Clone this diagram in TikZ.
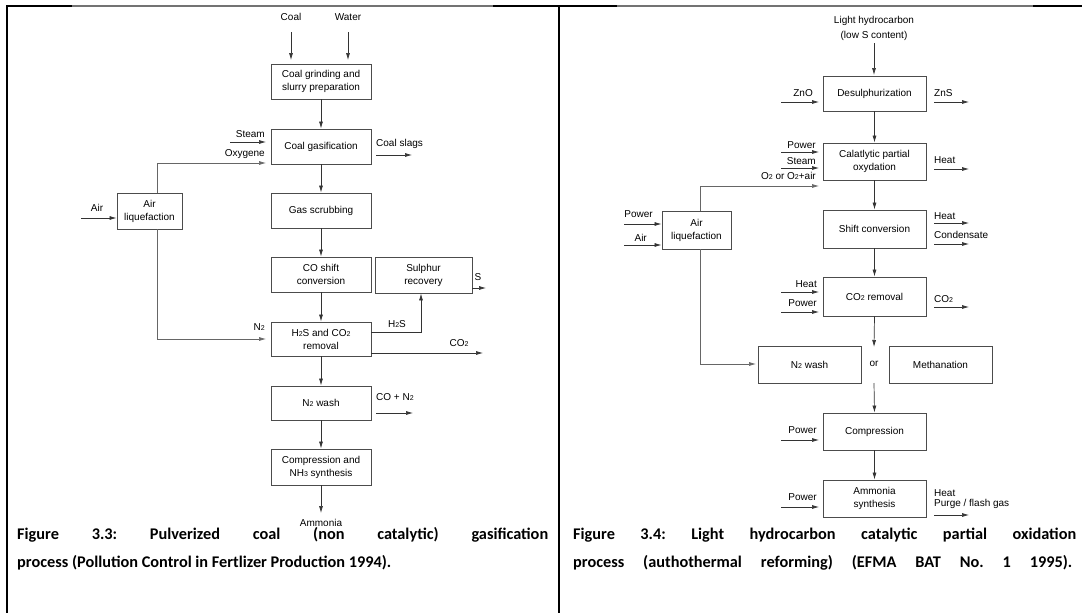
\documentclass[tikz,border=0pt]{standalone}
\usepackage{fontspec}
\setmainfont{Liberation Sans}
\newfontfamily\capfont{Carlito}
\usetikzlibrary{arrows.meta}
\newcommand{\sbs}[1]{{\fontsize{7}{8}\selectfont #1}}
\begin{document}
\frenchspacing
\begin{tikzpicture}[x=1pt,y=-1pt,
  box/.style={draw=black!70,line width=0.8pt,align=center,inner sep=1pt,font=\fontsize{10}{13}\selectfont},
  flow/.style={draw=black!80,line width=0.7pt,-{Latex[length=7pt,width=4pt]}},
  pipe/.style={draw=black!60,line width=0.7pt,-{Latex[length=7pt,width=4pt]}},
  lbl/.style={font=\fontsize{10}{12}\selectfont,inner sep=0pt,align=center},
  captxt/.style={font=\capfont\bfseries\fontsize{16.3}{28}\selectfont\frenchspacing,inner sep=0pt,anchor=west}]
\useasboundingbox (0,0) rectangle (1082,613);
% ---------- frame ----------
\draw[line width=2.2pt] (7,613) -- (7,6) -- (72,6);
\draw[black!55,line width=1.4pt] (72,6) -- (493,6);
\draw[line width=2.2pt] (493,6) -- (617,6);
\draw[black!55,line width=1.4pt] (617,6) -- (1033,6);
\draw[line width=2.2pt] (1033,6) -- (1082,6);
\draw[line width=2.2pt] (559,6) -- (559,613);

% ================= LEFT PANEL =================
\node[box,minimum width=100pt,minimum height=35pt] (b1) at (321,81.5) {Coal grinding and\\slurry preparation};
\node[box,minimum width=100pt,minimum height=35pt] (b2) at (321,146.5) {Coal gasification};
\node[box,minimum width=100pt,minimum height=35pt] (b3) at (321,210.5) {Gas scrubbing};
\node[box,minimum width=100pt,minimum height=35pt] (b4) at (321,274.5) {CO shift\\conversion};
\node[box,minimum width=97pt,minimum height=36pt] (b5) at (423.5,275) {Sulphur\\recovery};
\node[box,minimum width=100pt,minimum height=34pt] (b6) at (321,339) {H\sbs{2}S and CO\sbs{2}\\removal};
\node[box,minimum width=100pt,minimum height=34pt] (b7) at (321,403) {N\sbs{2} wash};
\node[box,minimum width=100pt,minimum height=36pt] (b8) at (321,467) {Compression and\\NH\sbs{3} synthesis};
\node[box,minimum width=65pt,minimum height=36pt] (al) at (149.5,211) {Air\\liquefaction};

\node[lbl] (lcoal) at (291,17) {Coal};
\node[lbl] (lwater) at (348,17) {Water};
\node[lbl,anchor=east] (lsteam) at (265,134) {Steam};
\node[lbl,anchor=east] (loxy) at (265,154) {Oxygene};
\node[lbl,anchor=west] (lslag) at (376,144) {Coal slags};
\node[lbl] (lair) at (97,208) {Air};
\node[lbl,anchor=east] (ln2) at (265,327) {N\sbs{2}};
\node[lbl] (lh2s) at (397,324) {H\sbs{2}S};
\node[lbl] (ls) at (478,277) {S};
\node[lbl] (lco2) at (459,343) {CO\sbs{2}};
\node[lbl,anchor=west] (lcon2) at (376,397) {CO + N\sbs{2}};
\begin{scope}
\clip (0,0) rectangle (559,525.5);
\node[lbl] (lamm) at (321,523) {Ammonia};
\end{scope}

\coordinate (c1a) at (291,32);  \coordinate (c1b) at (291,60);
\coordinate (c2a) at (348,32);  \coordinate (c2b) at (348,60);
\coordinate (sta) at (230,142); \coordinate (stb) at (266,142);
\coordinate (oxa) at (157,163); \coordinate (oxb) at (266,163);
\coordinate (sla) at (376,155); \coordinate (slb) at (412,155);
\coordinate (aia) at (81,218);
\coordinate (n2a) at (157,339); \coordinate (n2b) at (266,339);
\coordinate (hsa) at (421,332);
\coordinate (sa) at (472,288);  \coordinate (sb) at (486,288);
\coordinate (coa) at (483,353);
\coordinate (cna) at (376,413); \coordinate (cnb) at (413,413);
\coordinate (amb) at (321,513);

\draw[flow] (c1a) -- (c1b);
\draw[flow] (c2a) -- (c2b);
\draw[flow] (b1) -- (b2);
\draw[flow] (b2) -- (b3);
\draw[flow] (b3) -- (b4);
\draw[flow] (b4) -- (b6);
\draw[flow] (b6) -- (b7);
\draw[flow] (b7) -- (b8);
\draw[flow] (b8) -- (amb);
\draw[flow] (sta) -- (stb);
\draw[pipe] (al.north -| oxa) -- (oxa) -- (oxb);
\draw[flow] (sla) -- (slb);
\draw[flow] (aia) -- (al.west |- aia);
\draw[pipe] (al.south -| n2a) -- (n2a) -- (n2b);
\draw[flow] (b6.east |- hsa) -- (hsa) -- (b5.south -| hsa);
\draw[flow] (sa) -- (sb);
\draw[flow] (b6.east |- coa) -- (coa);
\draw[flow] (cna) -- (cnb);

% ================= RIGHT PANEL =================
\node[box,minimum width=103pt,minimum height=35pt] (d1) at (874.5,93.5) {Desulphurization};
\node[box,minimum width=103pt,minimum height=37pt] (d2) at (874.5,161.5) {Calatlytic partial\\oxydation};
\node[box,minimum width=103pt,minimum height=38pt] (d3) at (874.5,229) {Shift conversion};
\node[box,minimum width=103pt,minimum height=39pt] (d4) at (874.5,296.5) {CO\sbs{2} removal};
\node[box,minimum width=103pt,minimum height=37pt] (dn) at (809.5,364.5) {N\sbs{2} wash};
\node[box,minimum width=103pt,minimum height=37pt] (dm) at (940.5,364.5) {Methanation};
\node[box,minimum width=103pt,minimum height=37pt] (d5) at (874.5,431.5) {Compression};
\node[box,minimum width=103pt,minimum height=37pt] (d6) at (874.5,498.5) {Ammonia\\synthesis};
\node[box,minimum width=69pt,minimum height=38pt] (ral) at (696.5,230) {Air\\liquefaction};

\node[lbl,font=\fontsize{10}{15}\selectfont] (rlh) at (874,28) {Light hydrocarbon\\(low S content)};
\node[lbl,anchor=east] (rzno) at (813,93) {ZnO};
\node[lbl,anchor=west] (rzns) at (934,93) {ZnS};
\node[lbl,anchor=east] (rpow1) at (816,145) {Power};
\node[lbl,anchor=east] (rst) at (816,161) {Steam};
\node[lbl,anchor=east] (ro2) at (816,176) {O\sbs{2} or O\sbs{2}+air};
\node[lbl,anchor=west] (rh1) at (934,160) {Heat};
\node[lbl,anchor=west] (rh2) at (934,216) {Heat};
\node[lbl,anchor=west] (rcond) at (934,235) {Condensate};
\node[lbl,anchor=east] (rpa) at (653,214) {Power};
\node[lbl,anchor=east] (rair) at (647,238) {Air};
\node[lbl,anchor=east] (rh3) at (817,284) {Heat};
\node[lbl,anchor=east] (rpow2) at (817,303) {Power};
\node[lbl,anchor=west] (rco2) at (934,299) {CO\sbs{2}};
\node[lbl] (ror) at (874,364) {or};
\node[lbl,anchor=east] (rpow3) at (817,430) {Power};
\node[lbl,anchor=east] (rpow4) at (817,497) {Power};
\node[lbl,anchor=west] (rh4) at (934,493) {Heat};
\node[lbl,anchor=west] (rpg) at (934,504) {Purge / flash gas};

\coordinate (r0a) at (874,43); \coordinate (r0b) at (874,75);
\coordinate (rza) at (781,102); \coordinate (rzb) at (819,102);
\coordinate (rsa) at (934,102); \coordinate (rsb) at (969,102);
\coordinate (rp1a) at (781,152); \coordinate (rp1b) at (819,152);
\coordinate (rs1a) at (781,168); \coordinate (rs1b) at (819,168);
\coordinate (roa) at (700,186); \coordinate (rob) at (819,186);
\coordinate (rh1a) at (934,169); \coordinate (rh1b) at (969,169);
\coordinate (rh2a) at (934,223); \coordinate (rh2b) at (969,223);
\coordinate (rca) at (934,244); \coordinate (rcb) at (969,244);
\coordinate (rpaa) at (624,224);
\coordinate (raia) at (624,245);
\coordinate (rh3a) at (781,292); \coordinate (rh3b) at (819,292);
\coordinate (rp2a) at (781,312); \coordinate (rp2b) at (819,312);
\coordinate (rc2a) at (934,307); \coordinate (rc2b) at (969,307);
\coordinate (ror1) at (874,347); \coordinate (ror2) at (874,383);
\coordinate (rna) at (700,364); \coordinate (rnb) at (756,364);
\coordinate (rp3a) at (781,440); \coordinate (rp3b) at (819,440);
\coordinate (rp4a) at (781,507); \coordinate (rp4b) at (819,507);
\coordinate (rpga) at (934,515); \coordinate (rpgb) at (969,515);

\draw[flow] (r0a) -- (r0b);
\draw[flow] (d1) -- (d2);
\draw[flow] (d2) -- (d3);
\draw[flow] (d3) -- (d4);
\draw[flow] (d4.south) -- (ror1);
\draw[flow] (ror2) -- (d5.north);
\draw[flow] (d5) -- (d6);
\draw[flow] (rza) -- (rzb);
\draw[flow] (rsa) -- (rsb);
\draw[flow] (rp1a) -- (rp1b);
\draw[flow] (rs1a) -- (rs1b);
\draw[pipe] (ral.north -| roa) -- (roa) -- (rob);
\draw[flow] (rh1a) -- (rh1b);
\draw[flow] (rh2a) -- (rh2b);
\draw[flow] (rca) -- (rcb);
\draw[flow] (rpaa) -- (ral.west |- rpaa);
\draw[flow] (raia) -- (ral.west |- raia);
\draw[flow] (rh3a) -- (rh3b);
\draw[flow] (rp2a) -- (rp2b);
\draw[flow] (rc2a) -- (rc2b);
\draw[pipe] (ral.south -| rna) -- (rna) -- (rnb);
\draw[flow] (rp3a) -- (rp3b);
\draw[flow] (rp4a) -- (rp4b);
\draw[flow] (rpga) -- (rpgb);

% ================= CAPTIONS =================
\node[captxt] (cap1a) at (17,535) {\makebox[531pt][s]{Figure 3.3: Pulverized coal (non catalytic) gasification}};
\node[captxt] (cap1b) at (17,563) {process (Pollution Control in Fertlizer Production 1994).};
\node[captxt] (cap2a) at (573,535) {\makebox[503pt][s]{Figure 3.4: Light hydrocarbon catalytic partial oxidation}};
\node[captxt] (cap2b) at (573,563) {\makebox[499pt][s]{process (authothermal reforming) (EFMA BAT No. 1 1995).}};
\end{tikzpicture}
\end{document}
